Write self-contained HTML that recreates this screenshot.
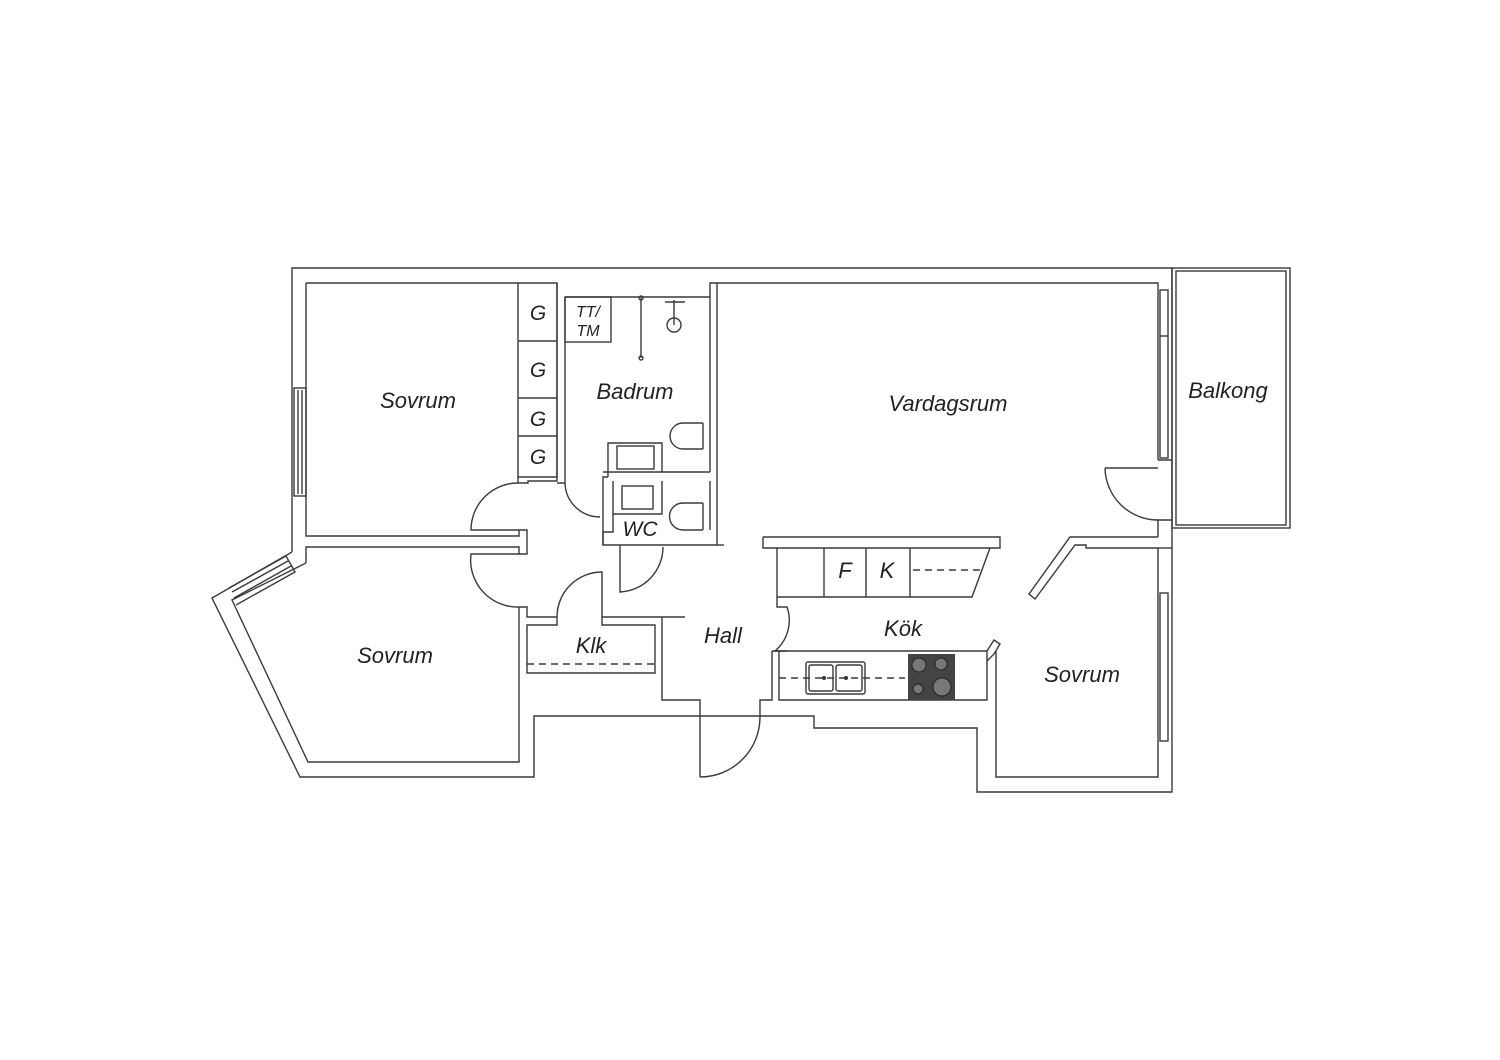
<!DOCTYPE html>
<html><head><meta charset="utf-8"><style>
html,body{margin:0;padding:0;background:#fff;}
svg{display:block}
text{font-family:"Liberation Sans",sans-serif;font-style:italic;fill:#222;text-anchor:middle;}
</style></head><body>
<svg width="1500" height="1060" viewBox="0 0 1500 1060" xmlns="http://www.w3.org/2000/svg">
<g fill="none" stroke="#3a3a3a" stroke-width="1.4">
<polyline points="292,552 292,268 1172,268 1172,792 977,792 977,728 814,728 814,716 760,716"/>
<polyline points="700,716 534,716 534,777 300,777 212,598 292,552"/>
<line x1="700" y1="716" x2="760" y2="716"/>
<polyline points="229,588 286,556 295,572 236,605"/>
<line x1="232" y1="592" x2="288" y2="561"/>
<line x1="234" y1="598" x2="291" y2="566"/>
<rect x="294" y="388" width="12" height="108"/>
<line x1="298" y1="390" x2="298" y2="494"/><line x1="302" y1="390" x2="302" y2="494"/>
<polyline points="306,283 518,283 518,477 557,477 557,283 518,283"/>
<polyline points="518,477 518,483 528,483 528,481 557,481 557,283"/>
<line x1="518" y1="341" x2="557" y2="341"/><line x1="518" y1="398" x2="557" y2="398"/><line x1="518" y1="436" x2="557" y2="436"/>
<polyline points="306,283 306,536 519,536 519,530 527,530 527,554 519,554 519,547 306,547 306,563"/>
<path d="M518,483 A47,47 0 0 0 471,530 L519,530"/>
<polyline points="306,563 232,600 308,762 519,762 519,607"/>
<path d="M519,554 L471,554 A47,47 0 0 0 519,607 L527,607 L527,617 L557,617 L557,625 L527,625 L527,673 L655,673 L655,625 L602,625 L602,617 L662,617"/>
<path d="M557,617 A45,45 0 0 1 602,572 L602,617"/>
<line x1="527" y1="664" x2="655" y2="664" stroke-dasharray="7,5"/>
<polyline points="662,617 662,700 700,700 700,777 M685,617 685,700"/>
<line x1="662" y1="617" x2="685" y2="617"/>
<path d="M700,777 A60,60 0 0 0 760,717 L760,700 L772,700 L772,651"/>
<polyline points="565,297 710,297 710,283 717,283 717,545 603,545 603,477 608,477"/>
<polyline points="565,297 565,483 557,483"/>
<path d="M565,483 A35,35 0 0 0 600,517"/>
<rect x="565" y="297" width="46" height="45"/>
<line x1="641" y1="298" x2="641" y2="358"/><circle cx="641" cy="298" r="2"/><circle cx="641" cy="358" r="2"/>
<circle cx="674" cy="325" r="7"/><line x1="674" y1="300" x2="674" y2="325"/><line x1="665" y1="302" x2="685" y2="302"/>
<path d="M703,423 L683,423 A13,13 0 0 0 683,449 L703,449"/><line x1="703" y1="423" x2="703" y2="449"/>
<path d="M703,503 L683,503 A13,13 0 0 0 683,530 L703,530"/><line x1="703" y1="503" x2="703" y2="530"/>
<line x1="710" y1="297" x2="710" y2="472"/>
<polyline points="608,477 608,443 662,443 662,472"/>
<rect x="617" y="446" width="37" height="23"/>
<polyline points="603,472 710,472 M603,481 710,481"/>
<polyline points="613,481 613,514 662,514 662,481"/>
<rect x="622" y="486" width="31" height="23"/>
<polyline points="603,545 603,532 613,532 613,514"/>
<line x1="710" y1="481" x2="710" y2="530"/>
<path d="M620,545 L620,592 A45,45 0 0 0 663,547"/>
<polyline points="717,545 724,545"/>
<polyline points="717,283 1158,283 1158,460"/>
<polyline points="1172,520 1158,520 1158,537"/>
<path d="M1158,460 L1172,460 M1105,468 L1158,468 M1105,468 A53,53 0 0 0 1158,520"/>
<rect x="1160" y="290" width="8" height="168"/><line x1="1160" y1="336" x2="1168" y2="336"/>
<rect x="1172" y="268" width="118" height="260"/>
<rect x="1176" y="271" width="110" height="254"/>
<polyline points="763,537 1000,537 1000,548 990,548 972,597 777,597 777,548 763,548 763,537"/>
<line x1="777" y1="548" x2="990" y2="548"/>
<line x1="824" y1="548" x2="824" y2="597"/><line x1="866" y1="548" x2="866" y2="597"/><line x1="910" y1="548" x2="910" y2="597"/>
<line x1="913" y1="570" x2="980" y2="570" stroke-dasharray="7,5"/>
<path d="M777,597 L777,607 L787,607 A40,40 0 0 1 775,651 L787,651"/>
<polyline points="1158,537 1070,537 1029,594 1035,599 1075,545 1086,545 1086,548 1158,548"/>
<polyline points="772,651 987,651 987,661 994,654 1000,644 994,640 987,651"/>
<polyline points="779,651 779,700 987,700 987,661"/>
<line x1="779" y1="678" x2="905" y2="678" stroke-dasharray="7,5"/>
<rect x="806" y="662" width="59" height="32" rx="2"/>
<rect x="809" y="665" width="24" height="26" rx="2"/><rect x="836" y="665" width="26" height="26" rx="2"/>
<polyline points="996,651 996,777 1158,777 1158,548"/>
<line x1="1158" y1="548" x2="1172" y2="548"/>
<rect x="1160" y="593" width="8" height="148"/>
</g>
<rect x="908" y="654" width="47" height="46" fill="#444"/>
<g fill="#777" stroke="#222"><circle cx="919" cy="665" r="7"/><circle cx="941" cy="664" r="6"/><circle cx="918" cy="689" r="5"/><circle cx="942" cy="687" r="9"/></g>
<g fill="#333"><circle cx="824" cy="678" r="2"/><circle cx="846" cy="678" r="2"/></g>
<text x="418" y="408" font-size="22">Sovrum</text>
<text x="395" y="663" font-size="22">Sovrum</text>
<text x="635" y="399" font-size="22">Badrum</text>
<text x="948" y="411" font-size="22">Vardagsrum</text>
<text x="1228" y="398" font-size="22">Balkong</text>
<text x="723" y="643" font-size="22">Hall</text>
<text x="903" y="636" font-size="22">Kök</text>
<text x="591" y="653" font-size="22">Klk</text>
<text x="1082" y="682" font-size="22">Sovrum</text>
<text x="640" y="536" font-size="21">WC</text>
<text x="845" y="578" font-size="22">F</text>
<text x="887" y="578" font-size="22">K</text>
<text x="538" y="320" font-size="21">G</text>
<text x="538" y="377" font-size="21">G</text>
<text x="538" y="426" font-size="21">G</text>
<text x="538" y="464" font-size="21">G</text>
<text x="588" y="317" font-size="16">TT/</text>
<text x="588" y="336" font-size="16">TM</text>
</svg>
</body></html>
